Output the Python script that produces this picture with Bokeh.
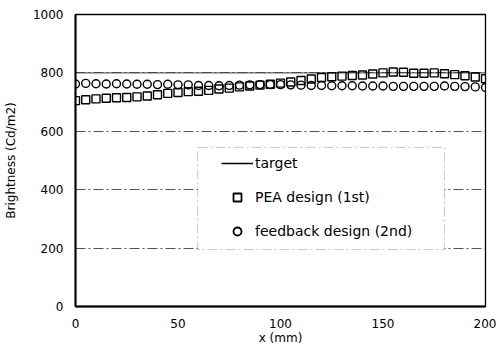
from bokeh.plotting import figure
from bokeh.models import (ColumnDataSource, Range1d, FixedTicker, BoxAnnotation,
                          Legend, LegendItem)
from bokeh.embed import file_html
from bokeh.resources import INLINE

# ---- data ----
x_mm = [0, 5, 10, 15, 20, 25, 30, 35, 40, 45, 50, 55, 60, 65, 70, 75, 80, 85, 90, 95,
        100, 105, 110, 115, 120, 125, 130, 135, 140, 145, 150, 155, 160, 165, 170, 175,
        180, 185, 190, 195, 200]
pea_1st = [705, 708, 711, 713, 715, 716, 718, 721, 725, 730, 733, 736, 737, 740, 745,
           748, 752, 755, 758, 761, 765, 769, 774, 779, 784, 787, 789, 791, 793, 796,
           800, 803, 802, 799, 799, 800, 797, 794, 790, 786, 780]
feedback_2nd = [762, 764, 763, 762, 763, 762, 761, 761, 760, 761, 759, 759, 757, 757,
                756, 757, 758, 759, 760, 760, 760, 759, 758, 757, 757, 756, 756, 756,
                755, 755, 755, 754, 754, 754, 754, 754, 755, 754, 753, 752, 750]
target_x = [0, 200]
target_y = [800, 800]
x_ticks = [0, 50, 100, 150, 200]
y_ticks = [0, 200, 400, 600, 800, 1000]
legend_labels = ["target", "PEA design (1st)", "feedback design (2nd)"]

FONT = "DejaVu Sans"
INK = "#000000"
NAN = float("nan")

p = figure(width=496, height=353, output_backend="svg", toolbar_location=None,
           x_range=Range1d(0, 200), y_range=Range1d(0, 1000),
           min_border_left=72, min_border_right=11, min_border_top=14,
           min_border_bottom=47, background_fill_color="white",
           border_fill_color="white")
p.outline_line_color = INK
p.outline_line_width = 1.3

# axes
for ax in (p.xaxis[0], p.yaxis[0]):
    ax.major_tick_out = 0
    ax.major_tick_in = 0
    ax.minor_tick_out = 0
    ax.minor_tick_in = 0
    ax.axis_line_color = INK
    ax.axis_line_width = 2
    ax.major_label_text_font = FONT
    ax.major_label_text_font_size = "12px"
    ax.major_label_text_color = INK
    ax.axis_label_text_font = FONT
    ax.axis_label_text_font_size = "12px"
    ax.axis_label_text_font_style = "normal"
    ax.axis_label_text_color = INK

p.xaxis.ticker = FixedTicker(ticks=x_ticks)
p.yaxis.ticker = FixedTicker(ticks=y_ticks)
p.xaxis.axis_label = "x (mm)"
p.yaxis.axis_label = "Brightness (Cd/m2)"
p.xaxis.major_label_standoff = 12
p.xaxis.axis_label_standoff = 0
p.yaxis.major_label_standoff = 12
p.yaxis.axis_label_standoff = 12

# grid
p.xgrid.grid_line_color = None
p.ygrid.ticker = FixedTicker(ticks=[200, 400, 600, 800])
p.ygrid.grid_line_color = "#555555"
p.ygrid.grid_line_width = 1
p.ygrid.grid_line_dash = "10 3 2 3"

# data
src = ColumnDataSource(dict(x=x_mm, pea=pea_1st, fb=feedback_2nd))
r_target = p.line(target_x, target_y, line_color="#444444", line_width=1)
r_pea = p.scatter("x", "pea", source=src, marker="square", size=8,
                  fill_alpha=0, line_color=INK, line_width=1.4)
r_fb = p.scatter("x", "fb", source=src, marker="circle", size=8,
                 fill_alpha=0, line_color=INK, line_width=1.4)

# legend box (dash-dot border, white)
box = BoxAnnotation(left=59.6, right=180, top=545, bottom=195,
                    fill_color="white", fill_alpha=1,
                    line_color="#444444", line_width=1, line_dash="10 3 2 3")
p.add_layout(box)

# legend-only renderers with smaller markers (no visible data)
lg_line = p.line([NAN, NAN], [NAN, NAN], line_color=INK, line_width=1.3)
lg_sq = p.scatter([NAN], [NAN], marker="square", size=7, fill_alpha=0,
                  line_color=INK, line_width=1.8)
lg_ci = p.scatter([NAN], [NAN], marker="circle", size=7, fill_alpha=0,
                  line_color=INK, line_width=1.8)

legend = Legend(items=[LegendItem(label=legend_labels[0], renderers=[lg_line]),
                       LegendItem(label=legend_labels[1], renderers=[lg_sq]),
                       LegendItem(label=legend_labels[2], renderers=[lg_ci])],
                location=(146, 65), padding=0, margin=0, spacing=14,
                glyph_width=32, glyph_height=20, label_height=20,
                label_standoff=2, border_line_alpha=0, background_fill_alpha=0,
                label_text_font=FONT, label_text_font_size="14px",
                label_text_color=INK)
p.add_layout(legend)

open("out.html", "w").write(file_html(p, INLINE))
